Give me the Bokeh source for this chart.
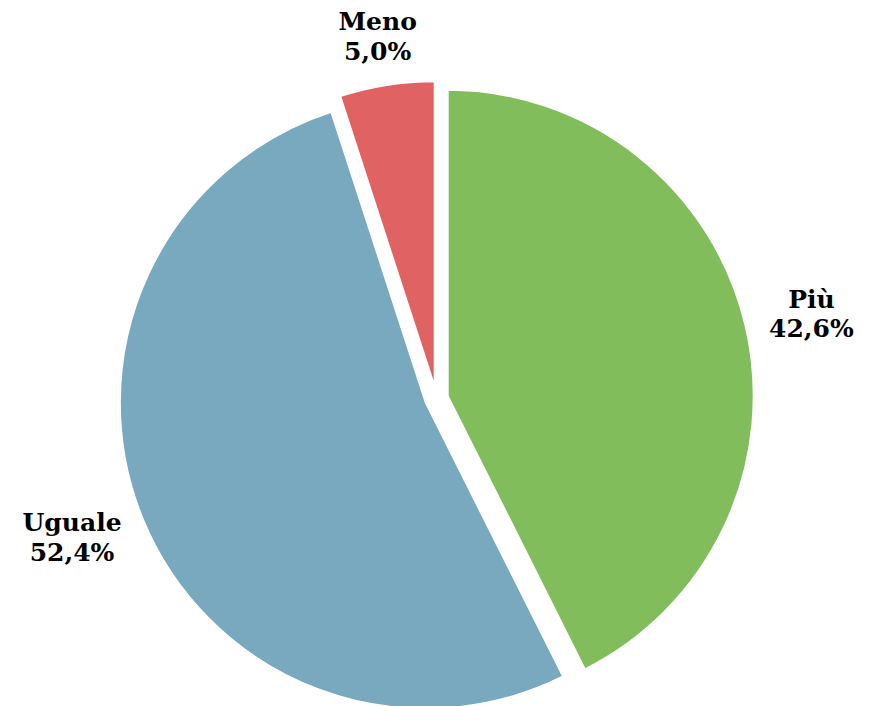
import numpy as np
from bokeh.plotting import figure
from bokeh.models import Range1d, ColumnDataSource
from bokeh.core.properties import value
from bokeh.embed import file_html
from bokeh.resources import INLINE

# ---- data ----
categories = ["Più", "Uguale", "Meno"]
percent = [42.6, 52.4, 5.0]
pct_labels = ["42,6%", "52,4%", "5,0%"]
colors = ["#82BD5C", "#78A9BE", "#E06262"]

# ---- layout (pixel-like data space, y up) ----
W, H = 879, 706
cx, cy = 436.0, 308.0      # pie centre
R = 306.0                  # radius
explode = 11.5             # offset of each slice along its mid-angle
gap = 24.0                 # label distance outside the rim
font_px = 25
box_h = 50.0

p = figure(width=W, height=H, x_range=Range1d(0, W), y_range=Range1d(0, H),
           output_backend="svg", toolbar_location=None, min_border=0)
p.xaxis.visible = False
p.yaxis.visible = False
p.grid.visible = False
p.outline_line_color = None
p.background_fill_color = "white"
p.border_fill_color = "white"

frac = np.array(percent) / np.sum(percent)
ang = frac * 2 * np.pi
start = np.pi / 2 - np.concatenate([[0], np.cumsum(ang)[:-1]])
end = start - ang
mid = (start + end) / 2

xs = cx + explode * np.cos(mid)
ys = cy + explode * np.sin(mid)

src = ColumnDataSource(dict(x=xs, y=ys, start=start, end=end, color=colors))
p.wedge(x="x", y="y", radius=R, start_angle="start", end_angle="end",
        direction="clock", fill_color="color", line_color="white", line_width=2,
        source=src)

# labels
lx, ly, txt = [], [], []
for i in range(len(categories)):
    c, s = np.cos(mid[i]), np.sin(mid[i])
    px = xs[i] + (R + gap) * c
    py = ys[i] + (R + gap) * s
    w = 0.7 * font_px * max(len(categories[i]), len(pct_labels[i]))
    lx.append(px + w / 2 * c)
    ly.append(py + box_h / 2 * s)
    txt.append(categories[i] + "\n" + pct_labels[i])

p.text(x=lx, y=ly, text=txt, text_align="center", text_baseline="middle",
       text_font=value("DejaVu Serif"), text_font_style="bold",
       text_font_size=f"{font_px}px", text_color="black", text_line_height=1.03)

open("out.html", "w").write(file_html(p, INLINE))
